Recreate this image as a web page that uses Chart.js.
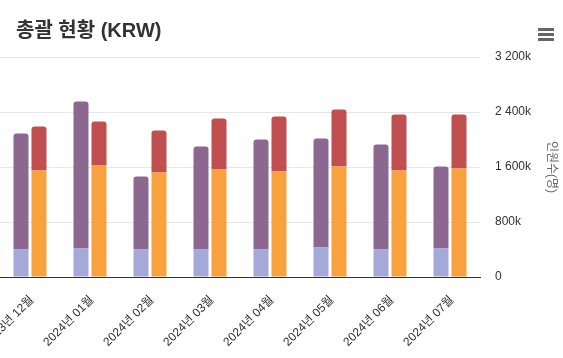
<!DOCTYPE html>
<html>
<head>
<meta charset="utf-8">
<script src="https://cdn.jsdelivr.net/npm/chart.js@4/dist/chart.umd.min.js"></script>
<style>
  html, body { margin: 0; padding: 0; background: #ffffff; }
  #wrap { position: relative; width: 563px; height: 358px; }
</style>
</head>
<body>
<div id="wrap"><canvas id="c"></canvas></div>
<script>
const chartTitle = '총괄 현황 (KRW)';
const axisTitle = '인원수(명)';
const categories = ['2023년 12월', '2024년 01월', '2024년 02월', '2024년 03월', '2024년 04월', '2024년 05월', '2024년 06월', '2024년 07월'];
const blueValues   = [400000, 415000, 400000, 400000, 400000, 429000, 400000, 415000];
const purpleValues = [1687000, 2138000, 1062000, 1498000, 1600000, 1586000, 1527000, 1192000];
const orangeValues = [1549000, 1622000, 1520000, 1564000, 1535000, 1607000, 1549000, 1578000];
const redValues    = [640000, 640000, 611000, 741000, 800000, 829000, 815000, 786000];
const yTicks = [0, 800000, 1600000, 2400000, 3200000];

const FONT = "'Liberation Sans', Arial, 'Noto Sans CJK KR', sans-serif";

const decor = {
  id: 'decor',
  afterDraw(chart) {
    const ctx = chart.ctx;
    ctx.save();
    ctx.fillStyle = '#333333';
    ctx.font = 'bold 20px ' + FONT;
    ctx.textBaseline = 'alphabetic';
    ctx.textAlign = 'left';
    ctx.fillText(chartTitle, 16, 37);
    ctx.fillStyle = '#666666';
    [28, 33, 38].forEach(y => ctx.fillRect(538, y, 16, 3));
    ctx.restore();
  }
};

function fmt(v) {
  if (v === 0) return '0';
  return String(v / 1000).replace(/\B(?=(\d{3})+(?!\d))/g, ' ') + 'k';
}

const common = { categoryPercentage: 0.6, barPercentage: 0.833 };

new Chart(document.getElementById('c'), {
  type: 'bar',
  data: {
    labels: categories,
    datasets: [
      Object.assign({ label: 'A1', data: blueValues, backgroundColor: '#a5a9d7', stack: 'a', borderRadius: 0 }, common),
      Object.assign({ label: 'A2', data: purpleValues, backgroundColor: '#8c6891', stack: 'a', borderRadius: {topLeft: 3, topRight: 3, bottomLeft: 0, bottomRight: 0} }, common),
      Object.assign({ label: 'B1', data: orangeValues, backgroundColor: '#f8a13e', stack: 'b', borderRadius: 0 }, common),
      Object.assign({ label: 'B2', data: redValues, backgroundColor: '#c24f50', stack: 'b', borderRadius: {topLeft: 3, topRight: 3, bottomLeft: 0, bottomRight: 0} }, common)
    ]
  },
  options: {
    responsive: true,
    maintainAspectRatio: false,
    animation: false,
    layout: { padding: { top: 57, left: 0, right: 0, bottom: 0 } },
    plugins: { legend: { display: false }, tooltip: { enabled: false }, title: { display: false } },
    scales: {
      x: {
        stacked: true,
        grid: { display: false },
        border: { display: true, color: '#333333', width: 1 },
        ticks: {
          minRotation: 45, maxRotation: 45, padding: 8, labelOffset: 2, autoSkip: false,
          color: '#333333', font: { family: FONT, size: 12 }
        },
        afterFit(scale) { scale.paddingLeft = 0; scale.paddingRight = 0; scale.height = 81; }
      },
      y: {
        stacked: true,
        position: 'right',
        min: 0, max: 3200000,
        afterBuildTicks(scale) { scale.ticks = yTicks.map(v => ({ value: v })); },
        grid: { color: '#e6e6e6', lineWidth: 1, drawTicks: false },
        border: { display: false },
        ticks: {
          padding: 15, color: '#333333', font: { family: FONT, size: 12 },
          callback: (v) => fmt(v)
        },
        title: { display: true, text: axisTitle, color: '#666666', font: { family: FONT, size: 12 }, padding: { top: 4, bottom: 4 } },
        afterFit(scale) { scale.width = 83; scale.paddingTop = 0; scale.paddingBottom = 0; }
      }
    }
  },
  plugins: [decor]
});
</script>
</body>
</html>
